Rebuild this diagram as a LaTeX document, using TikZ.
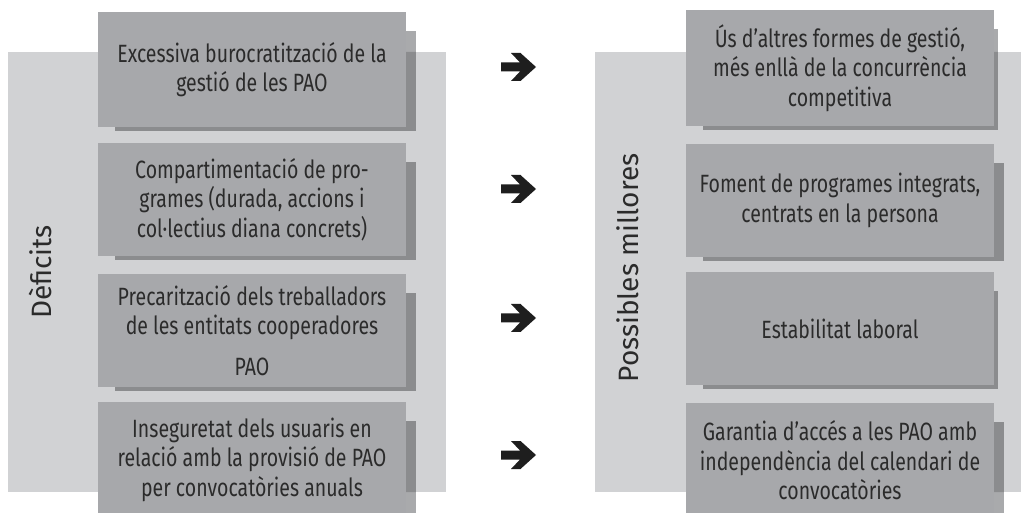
\documentclass[tikz,border=0pt]{standalone}
\usepackage{fontspec}
\setmainfont{Fira Sans}[FakeStretch=0.78]
\newfontfamily\labelfont{Fira Sans}
\usetikzlibrary{backgrounds,calc}
\definecolor{panelgray}{HTML}{D1D2D4}
\definecolor{boxgray}{HTML}{A7A8AB}
\definecolor{shadowdark}{HTML}{8B8C8E}
\definecolor{shadowlight}{HTML}{A9AAAC}
\definecolor{txt}{HTML}{2B2B2B}
\definecolor{arrowblack}{HTML}{1E1E1E}
\tikzset{
  box/.style={fill=boxgray, minimum width=308pt, minimum height=115pt, inner sep=0pt,
    align=center, text=txt, font=\fontsize{25}{29.5}\selectfont},
  sidelabel/.style={rotate=90, text=txt, font=\labelfont\fontsize{28}{32}\selectfont},
  bigarrow/.pic={\fill[arrowblack] (-17.5,-4.5) -- (1.5,-4.5) -- (-7.5,-14) -- (2,-14)
     -- (17.5,0) -- (2,14) -- (-7.5,14) -- (1.5,4.5) -- (-17.5,4.5) -- cycle;}
}
\begin{document}
\begin{tikzpicture}[x=1pt,y=-1pt]
\clip (0,0) rectangle (1021,513);
% boxes
\node[box] (l1) at (252,69.5) {Excessiva burocratització de la\\ gestió de les PAO};
\node[box, minimum height=113pt] (l2) at (252,199.5) {Compartimentació de pro-\\ grames (durada, accions i\\ col·lectius diana concrets)};
\node[box, minimum height=113pt] (l3) at (252,330.5) {Precarització dels treballadors\\ de les entitats cooperadores\\[11pt] PAO};
\node[box] (l4) at (252,459.5) {Inseguretat dels usuaris en\\ relació amb la provisió de PAO\\ per convocatòries anuals};
\node[box, minimum height=116pt] (r1) at (840,68) {Ús d’altres formes de gestió,\\ més enllà de la concurrència\\ competitiva};
\node[box, minimum height=113pt] (r2) at (840,200.5) {Foment de programes integrats,\\ centrats en la persona};
\node[box, minimum height=113pt] (r3) at (840,328.5) {Estabilitat laboral};
\node[box] (r4) at (840,460.5) {Garantia d’accés a les PAO amb\\ independència del calendari de\\ convocatòries};
% side labels
\node[sidelabel] (dl) at (40,272) {Dèficits};
\node[sidelabel] (pl) at (628,268) {Possibles millores};
% arrows
\pic at (518.5,67) {bigarrow};
\pic at (518.5,189) {bigarrow};
\pic at (518.5,318) {bigarrow};
\pic at (518.5,455) {bigarrow};
\begin{scope}[on background layer]
  \fill[white] (0,0) rectangle (1021,513);
  \fill[panelgray] (8,52) rectangle (446,492);
  \fill[panelgray] (595,52) rectangle (1021,492);
  \foreach \n/\dx in {l1/10,l2/10,l3/10,l4/10,r1/4,r2/10,r3/4,r4/10}{
    \fill[shadowlight] ($(\n.north west)+(17,19)$) rectangle ($(\n.south east)+(\dx,4)$);
  }
  \begin{scope}
    \clip (8,52) rectangle (446,492) (595,52) rectangle (1021,492);
    \foreach \n/\dx in {l1/10,l2/10,l3/10,l4/10,r1/4,r2/10,r3/4,r4/10}{
      \fill[shadowdark] ($(\n.north west)+(17,19)$) rectangle ($(\n.south east)+(\dx,4)$);
    }
  \end{scope}
\end{scope}
\end{tikzpicture}
\end{document}
